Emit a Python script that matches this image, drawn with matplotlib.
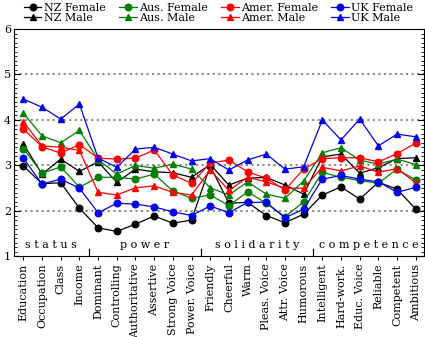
import matplotlib
matplotlib.use("Agg")
import matplotlib.pyplot as plt
from matplotlib.ticker import MultipleLocator

plt.rcParams['font.family'] = ['DejaVu Serif']

# categories along the x axis
categories = ['Education', 'Occupation', 'Class', 'Income',
              'Dominant', 'Controlling', 'Authoritative', 'Assertive', 'Strong Voice', 'Power. Voice',
              'Friendly', 'Cheerful', 'Warm', 'Pleas. Voice', 'Attr. Voice', 'Humorous',
              'Intelligent', 'Hard-work.', 'Educ. Voice', 'Reliable', 'Competent', 'Ambitious']

groups = ['status', 'power', 'solidarity', 'competence']
group_centers = [1.5, 6.5, 12.5, 18.5]
group_breaks = [3.5, 9.5, 15.5]

# mean ratings
nz_female = [2.99, 2.60, 2.62, 2.06, 1.63, 1.55, 1.71, 1.89, 1.73, 1.80, 2.99,
             2.17, 2.19, 1.90, 1.74, 1.93, 2.35, 2.53, 2.26, 2.63, 2.48, 2.04]
nz_male = [3.47, 2.81, 3.14, 2.87, 3.08, 2.63, 2.92, 2.86, 2.84, 2.74, 3.02,
           2.57, 2.72, 2.74, 2.57, 2.37, 3.19, 3.25, 2.83, 2.95, 3.15, 3.17]
aus_female = [3.37, 2.83, 2.97, 2.52, 2.74, 2.74, 2.70, 2.81, 2.44, 2.28, 2.35,
              2.12, 2.42, 2.17, 1.87, 2.20, 2.85, 2.74, 2.67, 2.61, 2.92, 2.68]
aus_male = [4.15, 3.65, 3.50, 3.77, 3.13, 2.81, 3.00, 2.94, 3.03, 2.92, 2.51,
            2.35, 2.64, 2.37, 2.28, 2.66, 3.28, 3.39, 3.12, 3.03, 3.14, 3.02]
amer_female = [3.80, 3.41, 3.27, 3.46, 3.16, 3.14, 3.16, 3.34, 2.79, 2.61, 3.05,
               3.12, 2.86, 2.72, 2.46, 2.92, 3.15, 3.17, 3.17, 3.08, 3.26, 3.49]
amer_male = [3.96, 3.43, 3.40, 3.33, 2.41, 2.35, 2.51, 2.55, 2.41, 2.35, 2.90,
             2.45, 2.74, 2.64, 2.50, 2.50, 2.96, 2.88, 2.99, 2.85, 2.93, 2.62]
uk_female = [3.16, 2.59, 2.70, 2.50, 1.96, 2.17, 2.15, 2.09, 1.98, 1.90, 2.11,
             1.96, 2.19, 2.19, 1.85, 2.04, 2.70, 2.78, 2.70, 2.64, 2.41, 2.52]
uk_male = [4.46, 4.28, 4.02, 4.35, 3.16, 2.96, 3.36, 3.40, 3.25, 3.10, 3.15,
           2.90, 3.12, 3.25, 2.92, 2.97, 4.00, 3.56, 4.02, 3.43, 3.69, 3.63]

series = [
    ('NZ Female', nz_female, 'black', 'o'),
    ('NZ Male', nz_male, 'black', '^'),
    ('Aus. Female', aus_female, '#008000', 'o'),
    ('Aus. Male', aus_male, '#008000', '^'),
    ('Amer. Female', amer_female, '#ff0000', 'o'),
    ('Amer. Male', amer_male, '#ff0000', '^'),
    ('UK Female', uk_female, '#0000ee', 'o'),
    ('UK Male', uk_male, '#0000ee', '^'),
]

fig = plt.figure(figsize=(4.25, 3.37), dpi=100)
ax = fig.add_axes([0.033, 0.239, 0.965, 0.675])

x = list(range(len(categories)))
for name, vals, col, mk in series:
    ax.plot(x, vals, color=col, marker=mk, markersize=4.7, linewidth=0.9, label=name)

for g in [2, 3, 4, 5]:
    ax.axhline(g, color='#8a8a8a', linestyle=':', linewidth=1.5, zorder=0)

ax.set_xlim(-0.5, 21.45)
ax.set_ylim(1, 6)
ax.set_xticks(x)
ax.set_xticklabels(categories, rotation=90, fontsize=8)
ax.tick_params(axis='x', direction='out', length=3, pad=2)
ax.yaxis.set_major_locator(MultipleLocator(1))
ax.yaxis.set_minor_locator(MultipleLocator(0.1))
ax.tick_params(axis='y', which='both', direction='in', right=True, labelsize=8, pad=2)
ax.tick_params(axis='y', which='major', length=4)
ax.tick_params(axis='y', which='minor', length=2)

for b in group_breaks:
    ax.plot([b, b], [1, 1.16], color='black', linewidth=0.9)

for name, c in zip(groups, group_centers):
    ax.text(c, 1.25, ' '.join(name), ha='center', va='center', fontsize=8)

handles, labels = ax.get_legend_handles_labels()
fig.legend(handles, labels, ncol=4, loc='upper left', bbox_to_anchor=(0.04, 1.01),
           frameon=False, fontsize=8, handlelength=1.6, handletextpad=0.2,
           columnspacing=1.2, labelspacing=0.0, borderaxespad=0.2)

fig.savefig('out.png', dpi=100)
